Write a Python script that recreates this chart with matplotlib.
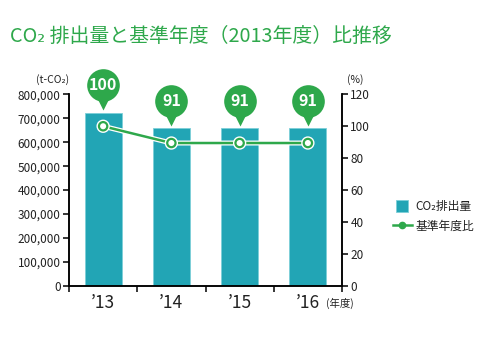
import matplotlib
matplotlib.use('Agg')
import matplotlib.pyplot as plt
from matplotlib.transforms import offset_copy
from matplotlib.lines import Line2D
import matplotlib.patheffects as pe

years = ["’13", "’14", "’15", "’16"]
emissions = [724000, 658000, 658000, 658000]
ratio = [100, 89.5, 89.5, 89.5]
ratio_labels = ["100", "91", "91", "91"]
left_ticks = [0, 100000, 200000, 300000, 400000, 500000, 600000, 700000, 800000]
right_ticks = [0, 20, 40, 60, 80, 100, 120]

plt.rcParams['font.family'] = ['Noto Sans CJK JP', 'DejaVu Sans']

TEAL = '#22a5b5'
GREEN = '#2ea84b'
TXT = '#222222'

fig = plt.figure(figsize=(5, 3.4), dpi=100)
ax = fig.add_axes([0.138, 0.159, 0.546, 0.5636])
x = list(range(len(years)))

ax.bar(x, emissions, width=0.54, color=TEAL, edgecolor='#7ccfd8', linewidth=0.6, zorder=2)
ax.set_xlim(-0.5, 3.5)
ax.set_ylim(0, 800000)
ax.set_yticks(left_ticks)
ax.set_yticklabels([f"{v:,}" for v in left_ticks], fontsize=8.5, color=TXT)
ax.set_xticks(x)
ax.set_xticklabels(years, fontsize=12.5, color=TXT)
ax.tick_params(axis='x', which='major', length=0, pad=6)
ax.set_xticks([-0.5, 0.5, 1.5, 2.5, 3.5], minor=True)
ax.tick_params(axis='x', which='minor', length=4, width=1.1, color='black')
ax.tick_params(axis='y', length=4, width=1.1, pad=2)
for s in ['left', 'right', 'bottom']:
    ax.spines[s].set_linewidth(1.1)
ax.spines['top'].set_visible(False)

ax2 = ax.twinx()
ax2.set_ylim(0, 120)
ax2.set_yticks(right_ticks)
ax2.set_yticklabels([str(v) for v in right_ticks], fontsize=8.5, color=TXT)
ax2.tick_params(axis='y', length=4, width=1.1, pad=2)
for s in ['left', 'right', 'bottom']:
    ax2.spines[s].set_linewidth(1.1)
ax2.spines['top'].set_visible(False)
ax2.plot(x, ratio, color=GREEN, lw=1.8, marker='o', ms=6, mfc='white', mec=GREEN, mew=1.6,
         path_effects=[pe.Stroke(linewidth=3.6, foreground='white'), pe.Normal()], zorder=4)

# bubbles
tc = offset_copy(ax.transData, fig=fig, x=0, y=20, units='points')
tt = offset_copy(ax.transData, fig=fig, x=0, y=6.3, units='points')
for i, v in enumerate(emissions):
    ax.plot(i, v, marker='v', ms=9, color=GREEN, mec='none', transform=tt, clip_on=False, zorder=5)
    ax.plot(i, v, marker='o', ms=23.5, color=GREEN, mec='none', transform=tc, clip_on=False, zorder=6)
    ax.text(i, v, ratio_labels[i], transform=tc, ha='center', va='center', color='white',
            fontweight='bold', fontsize=11.5, zorder=7)

fig.text(0.02, 0.893, "CO₂ 排出量と基準年度（2013年度）比推移", fontsize=14.3, color=GREEN,
         ha='left', va='center')
fig.text(0.106, 0.765, "(t-CO₂)", fontsize=7.5, color=TXT, ha='center', va='center')
fig.text(0.71, 0.765, "(%)", fontsize=7.5, color=TXT, ha='center', va='center')
fig.text(0.68, 0.109, "(年度)", fontsize=7.5, color=TXT, ha='center', va='center')

handles = [Line2D([0], [0], ls='none', marker='s', ms=8, mfc=TEAL, mec='#7ccfd8', mew=0.6),
           Line2D([0], [0], color=GREEN, lw=1.8, marker='o', ms=4.5, mfc=GREEN, mec=GREEN)]
fig.legend(handles, ["CO₂排出量", "基準年度比"], loc='upper left', bbox_to_anchor=(0.786, 0.412),
           frameon=False, fontsize=8.5, handlelength=1.6, handletextpad=0.3, labelspacing=0.55,
           borderpad=0, borderaxespad=0, labelcolor=TXT)

fig.savefig('out.png', dpi=100)
